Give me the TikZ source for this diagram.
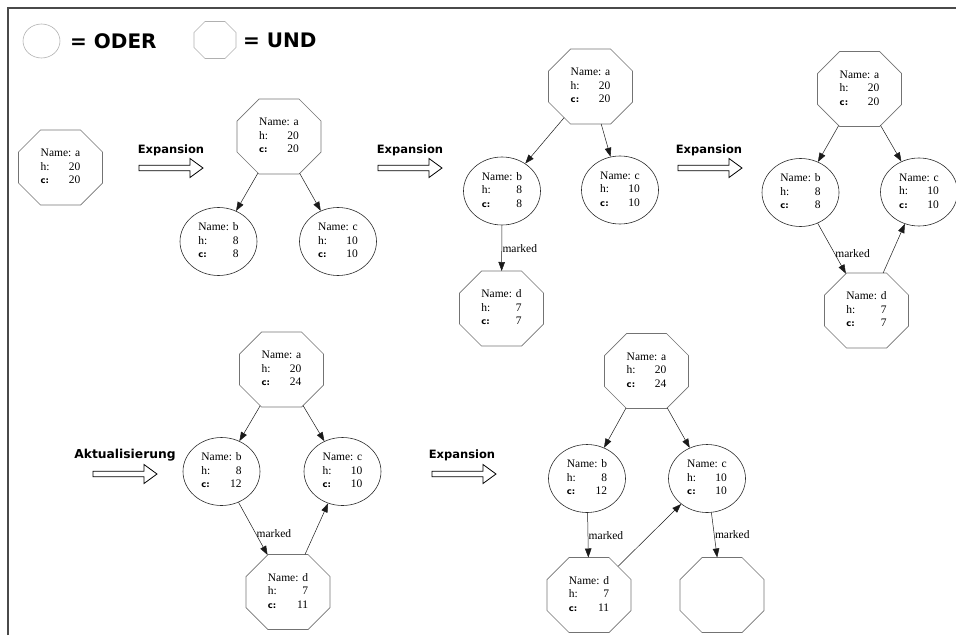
\documentclass[tikz,border=0pt]{standalone}
\usepackage{fontspec}
\setmainfont{Liberation Serif}
\setsansfont{DejaVu Sans}
\usepackage{xcolor}
\definecolor{frameGray}{HTML}{4A4A4A}
\definecolor{undGray}{HTML}{737373}
\definecolor{oderDark}{HTML}{2A2A2A}
\definecolor{legendGray}{HTML}{B0B0B0}
\definecolor{edgeDark}{HTML}{1A1A1A}
\usepackage{tikz}
\usetikzlibrary{
    shapes.geometric,
    arrows.meta,
    positioning
}

% octagon with a fixed size and 45 degree corners
\pgfkeys{/pgf/octagon chamfer/.initial=22pt}
\makeatletter
\pgfdeclareshape{octagon box}{%
  \savedanchor\northeast{%
    \pgfmathsetlength\pgf@x{.5*\pgfkeysvalueof{/pgf/minimum width}}%
    \pgfmathsetlength\pgf@y{.5*\pgfkeysvalueof{/pgf/minimum height}}%
  }%
  \savedmacro\chamfer{%
    \pgfmathsetmacro\chamfer{\pgfkeysvalueof{/pgf/octagon chamfer}}%
  }%
  \anchor{center}{\pgfpointorigin}%
  \anchor{text}{\pgfpoint{-.5\wd\pgfnodeparttextbox}{.5\dp\pgfnodeparttextbox-.5\ht\pgfnodeparttextbox}}%
  \anchor{north}{\northeast\pgf@x=0pt}%
  \anchor{south}{\northeast\pgf@x=0pt\pgf@y=-\pgf@y}%
  \anchor{east}{\northeast\pgf@y=0pt}%
  \anchor{west}{\northeast\pgf@x=-\pgf@x\pgf@y=0pt}%
  \backgroundpath{%
    \northeast
    \edef\oW{\the\pgf@x}\edef\oH{\the\pgf@y}%
    \pgfmathsetmacro\oX{\oW-\chamfer}%
    \pgfmathsetmacro\oY{\oH-\chamfer}%
    \pgfpathmoveto{\pgfpoint{\oX pt}{\oH}}%
    \pgfpathlineto{\pgfpoint{\oW}{\oY pt}}%
    \pgfpathlineto{\pgfpoint{\oW}{-\oY pt}}%
    \pgfpathlineto{\pgfpoint{\oX pt}{-\oH}}%
    \pgfpathlineto{\pgfpoint{-\oX pt}{-\oH}}%
    \pgfpathlineto{\pgfpoint{-\oW}{-\oY pt}}%
    \pgfpathlineto{\pgfpoint{-\oW}{\oY pt}}%
    \pgfpathlineto{\pgfpoint{-\oX pt}{\oH}}%
    \pgfpathclose
  }%
  \anchorborder{%
    \edef\odx{\the\pgf@x}\edef\ody{\the\pgf@y}%
    \northeast
    \edef\oW{\the\pgf@x}\edef\oH{\the\pgf@y}%
    \pgfmathsetmacro\olen{max(veclen(\odx,\ody),0.001)}%
    \pgfmathsetmacro\oux{abs(\odx)/\olen}%
    \pgfmathsetmacro\ouy{abs(\ody)/\olen}%
    \pgfmathsetmacro\otx{\oux>0.01 ? \oW/\oux : 9999}%
    \pgfmathsetmacro\oty{\ouy>0.01 ? \oH/\ouy : 9999}%
    \pgfmathsetmacro\otd{(\oW+\oH-\chamfer)/(\oux+\ouy)}%
    \pgfmathsetmacro\ot{min(\otx,\oty,\otd)}%
    \pgfmathsetmacro\obx{\odx/\olen*\ot}%
    \pgfmathsetmacro\oby{\ody/\olen*\ot}%
    \pgf@x=\obx pt\relax
    \pgf@y=\oby pt\relax
  }%
}
\makeatother

% content of a search node: name, h and c value
\newcommand{\nodeinfo}[3]{%
  \begin{tabular}{@{}l@{\hspace{8pt}}r@{}}
    \multicolumn{2}{@{}c@{}}{Name: #1}\\
    h: & #2\\
    {\sffamily\bfseries\fontsize{8.5}{13.5}\selectfont c:} & #3
  \end{tabular}}

\tikzset{
    % Base style for all graph nodes
    graph base/.style={
        font=\fontsize{11.5}{13.5}\selectfont,
        inner sep=0pt,
        text=black,
    },
    % UND nodes - octagon
    und/.style={
        graph base,
        octagon box,
        octagon chamfer=22pt,
        minimum width=84pt,
        minimum height=75pt,
        draw=undGray,
        line width=0.7pt,
    },
    % ODER nodes - ellipse
    oder/.style={
        graph base,
        ellipse,
        minimum width=77pt,
        minimum height=68pt,
        draw=oderDark,
        line width=0.6pt,
    },
    % Legend shapes
    legend oder/.style={
        ellipse,
        minimum width=37pt,
        minimum height=34pt,
        draw=legendGray,
        line width=0.6pt,
    },
    legend und/.style={
        octagon box,
        octagon chamfer=11pt,
        minimum width=42pt,
        minimum height=37pt,
        draw=legendGray,
        line width=0.6pt,
    },
    legend text/.style={
        font=\sffamily\bfseries\fontsize{20}{23}\selectfont,
        inner sep=0pt,
    },
    % Step label above the hollow arrows
    step label/.style={
        font=\sffamily\bfseries\fontsize{11.5}{13}\selectfont,
        anchor=base,
        inner sep=0pt,
    },
    % Graph edge
    edge/.style={
        -{Triangle[length=9pt, width=6.5pt]},
        draw=edgeDark,
        line width=0.5pt,
    },
    % Edge label
    mark label/.style={
        font=\fontsize{11.5}{13.5}\selectfont,
        anchor=west,
        inner sep=0.5pt,
    },
    % Hollow step arrow
    hollow arrow/.pic={
        \draw [draw=black, line width=0.8pt, fill=white]
            (0,-2.8) -- (51,-2.8) -- (51,-9.5) -- (64,0)
            -- (51,9.5) -- (51,2.8) -- (0,2.8) -- cycle;
    },
    frameline/.style={draw=frameGray, line width=1.8pt},
}

\begin{document}
\begin{tikzpicture}[x=1pt, y=-1pt]
    \useasboundingbox (0,0) rectangle (956,635);
    \draw [frameline] (8,635) -- (8,8) -- (956,8);

    % legend
    \node (leg_oder) [legend oder] at (41.5,41) {};
    \node (leg_oder_text) [legend text, anchor=west] at (70,41) {= ODER};
    \node (leg_und) [legend und] at (215,40) {};
    \node (leg_und_text) [legend text, anchor=west] at (243,40) {= UND};

    % start
    \node (a0) [und] at (60.5,167.5) {\nodeinfo{a}{20}{20}};

    % first expansion
    \pic at (139,168) {hollow arrow};
    \node (exp1) [step label] at (171,153) {Expansion};
    \node (a1) [und] at (279,136.5) {\nodeinfo{a}{20}{20}};
    \node (b1) [oder] at (218.5,241.5) {\nodeinfo{b}{8}{8}};
    \node (c1) [oder] at (338,241.5) {\nodeinfo{c}{10}{10}};
    \draw [edge] (a1) -- (b1);
    \draw [edge] (a1) -- (c1);

    % second expansion
    \pic at (378,168) {hollow arrow};
    \node (exp2) [step label] at (410,153) {Expansion};
    \node (a2) [und] at (590.5,86.5) {\nodeinfo{a}{20}{20}};
    \node (b2) [oder] at (502,191) {\nodeinfo{b}{8}{8}};
    \node (c2) [oder] at (620,190) {\nodeinfo{c}{10}{10}};
    \node (d2) [und] at (501.5,308.5) {\nodeinfo{d}{7}{7}};
    \draw [edge] (a2) -- (b2);
    \draw [edge] (a2) -- (c2);
    \draw [edge] (b2) -- node [mark label] {marked} (d2);

    % third expansion
    \pic at (678,168) {hollow arrow};
    \node (exp3) [step label] at (709,153) {Expansion};
    \node (a3) [und] at (859.5,89) {\nodeinfo{a}{20}{20}};
    \node (b3) [oder] at (800.5,192.5) {\nodeinfo{b}{8}{8}};
    \node (c3) [oder] at (919,192) {\nodeinfo{c}{10}{10}};
    \node (d3) [und] at (866.5,310.5) {\nodeinfo{d}{7}{7}};
    \draw [edge] (a3) -- (b3);
    \draw [edge] (a3) -- (c3);
    \draw [edge] (b3) -- node [mark label, pos=0.6] {marked} (d3);
    \draw [edge] (d3) -- (c3);

    % update
    \pic at (93,474) {hollow arrow};
    \node (upd) [step label, font=\sffamily\bfseries\fontsize{12.3}{13}\selectfont] at (125,458) {Aktualisierung};
    \node (a4) [und] at (281.5,369.5) {\nodeinfo{a}{20}{24}};
    \node (b4) [oder] at (221.5,471.5) {\nodeinfo{b}{8}{12}};
    \node (c4) [oder] at (342.5,471.5) {\nodeinfo{c}{10}{10}};
    \node (d4) [und] at (288,592) {\nodeinfo{d}{7}{11}};
    \draw [edge] (a4) -- (b4);
    \draw [edge] (a4) -- (c4);
    \draw [edge] (b4) -- node [mark label, pos=0.6] {marked} (d4);
    \draw [edge] (d4) -- (c4);

    % fourth expansion
    \pic at (432,474) {hollow arrow};
    \node (exp4) [step label] at (462,458) {Expansion};
    \node (a5) [und] at (646.5,371) {\nodeinfo{a}{20}{24}};
    \node (b5) [oder] at (587,478.5) {\nodeinfo{b}{8}{12}};
    \node (c5) [oder] at (707,478.5) {\nodeinfo{c}{10}{10}};
    \node (d5) [und] at (589,595) {\nodeinfo{d}{7}{11}};
    \node (e5) [und] at (722,595) {};
    \draw [edge] (a5) -- (b5);
    \draw [edge] (a5) -- (c5);
    \draw [edge] (b5) -- node [mark label] {marked} (d5);
    \draw [edge] (d5) -- (c5);
    \draw [edge] (c5) -- node [mark label] {marked} (e5);
\end{tikzpicture}
\end{document}
